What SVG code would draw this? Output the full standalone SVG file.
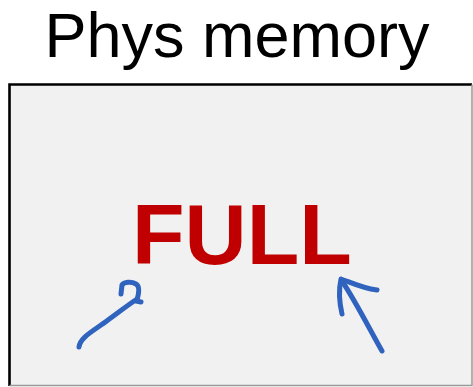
<svg xmlns="http://www.w3.org/2000/svg" width="473" height="387" viewBox="0 0 473 387">
  <style>
    .title { font-family: "Liberation Sans", Arial, sans-serif; font-size: 63px; fill: #000; }
    .full { font-family: "Liberation Sans", Arial, sans-serif; font-size: 86px; font-weight: bold; fill: #C00000; }
    .ink { fill: none; stroke: #2F63BE; stroke-width: 5; stroke-linecap: round; stroke-linejoin: round; }
  </style>
  <rect width="473" height="387" fill="#fff"/>
  <text class="title" x="237" y="57" text-anchor="middle">Phys memory</text>
  <g id="phys-memory">
    <rect x="9" y="84" width="463" height="302" fill="#F1F1F1"/>
    <path d="M9.5,386 V84.5 H472" fill="none" stroke="#000" stroke-width="2.6"/>
    <path d="M472,84.5 V385.5 H9.5" fill="none" stroke="#999" stroke-width="1.5"/>
    <text class="full" x="132" y="264">FULL</text>
  </g>
  <g id="connectors">
    <!-- left hand-drawn arrow with hook -->
    <path class="ink" d="M79,347 C80,337 95,330 108,320 C119,312 128,305 137,299"/>
    <path class="ink" d="M136,301 L141,302"/>
    <path class="ink" d="M137,300 C139,293 140,286 136,284 C131,281 124,282 122,285 L121,294"/>
    <!-- right hand-drawn arrow -->
    <path class="ink" d="M382,351 C370,330 356,302 342,281"/>
    <path class="ink" d="M342,314 C339,301 339,288 341,279 C350,282 361,288 377,290"/>
  </g>
</svg>
